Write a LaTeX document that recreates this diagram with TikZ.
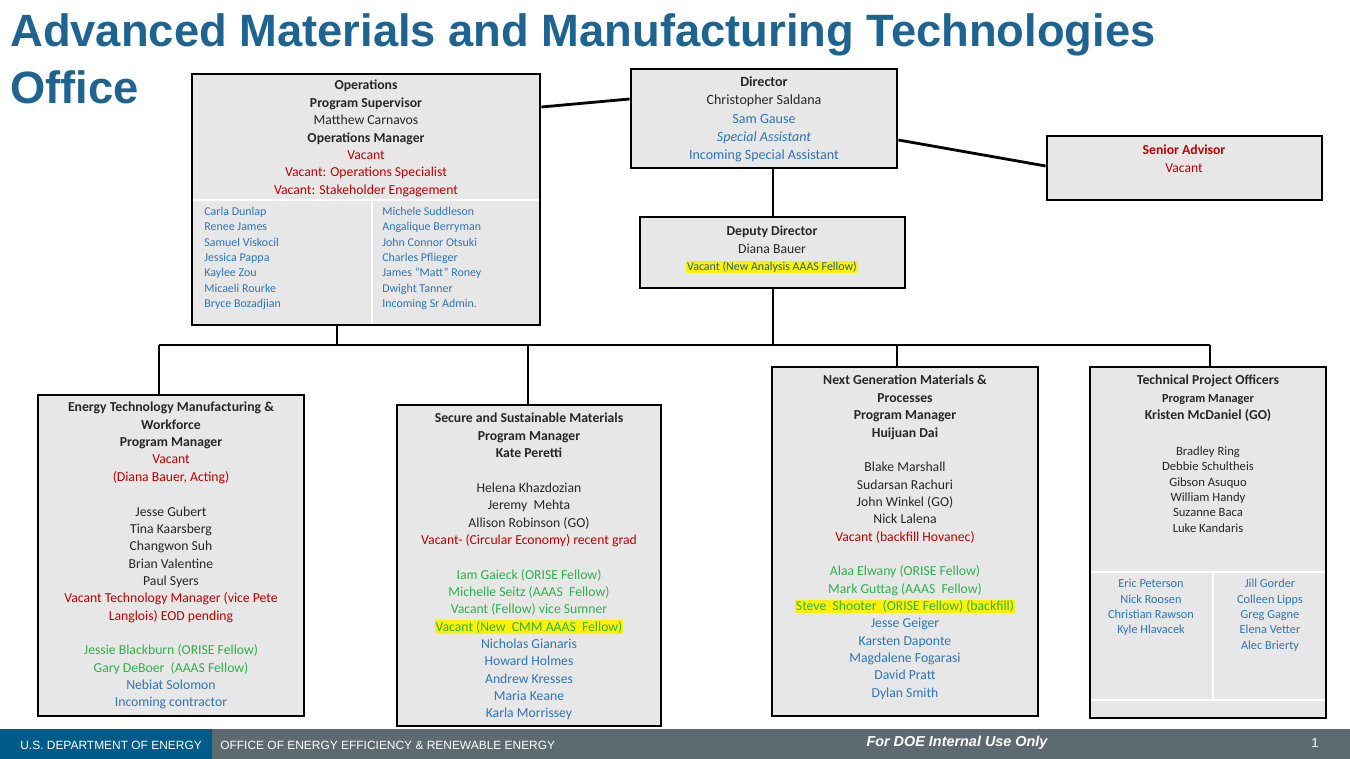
\documentclass[tikz,border=0pt]{standalone}
\usepackage{fontspec}
\setmainfont{Carlito}
\newfontfamily\titlefont{Liberation Sans}
\usetikzlibrary{fit}
\definecolor{doeblue}{HTML}{1F6391}
\definecolor{vred}{HTML}{C00000}
\definecolor{sblue}{HTML}{2E75B6}
\definecolor{fgreen}{HTML}{2EB14B}
\definecolor{boxgray}{HTML}{E7E7E7}
\definecolor{footgray}{HTML}{5E6A71}
\definecolor{footblue}{HTML}{005B8A}
\newcommand\hl[1]{{\setlength\fboxsep{0.5pt}\colorbox{yellow}{#1}}}
\newcommand\rd[1]{\textcolor{vred}{#1}}
\newcommand\bl[1]{\textcolor{sblue}{#1}}
\newcommand\gr[1]{\textcolor{fgreen}{#1}}

\begin{document}
\begin{tikzpicture}[x = 0.02cm, y = -0.02cm]
\tikzstyle{box}=[draw = black, line width = 1.6pt, fill = boxgray, inner sep = 0pt]
\tikzstyle{txt}=[anchor = north, align = center, inner sep = 0pt, text = black!85,
                 font = \fontsize{7.8}{9.87}\selectfont]
\tikzstyle{lst}=[anchor = north west, align = left, inner sep = 0pt, text = sblue,
                 font = \fontsize{6.8}{8.7}\selectfont]
\tikzstyle{tpl}=[anchor = north, align = center, inner sep = 0pt, text = sblue,
                 font = \fontsize{7}{8.7}\selectfont]
\tikzstyle{link}=[line width = 1.6pt]
\useasboundingbox (0,0) rectangle (1350,759);
% title
\node[anchor = base west, inner sep = 0pt, text = doeblue, font = \titlefont\bfseries\fontsize{25.8}{28}\selectfont]
  (title) at (10,47) {Advanced Materials and Manufacturing Technologies};
\node[anchor = base west, inner sep = 0pt, text = doeblue, font = \titlefont\bfseries\fontsize{25.8}{28}\selectfont]
  (office) at (10,104) {Office};
% boxes
\node[box, fit = {(192,74) (540,325)}] (ops) {};
\node[box, fit = {(631,69) (897,168)}] (dir) {};
\node[box, fit = {(1047,136) (1322,200)}] (sen) {};
\node[box, fit = {(640,217) (905,288)}] (dep) {};
\node[box, fit = {(38,395) (304,716)}] (etm) {};
\node[box, fit = {(397,405) (661,726)}] (ssm) {};
\node[box, fit = {(772,367) (1038,716)}] (ngm) {};
\node[box, fit = {(1090,367) (1326,718)}] (tpo) {};
% white dividers
\draw[white, line width = 1.2pt] (193,200) -- (539,200) (372,200) -- (372,324);
\draw[white, line width = 1.5pt] (1091,572) -- (1325,572) (1091,700) -- (1325,700) (1213,572) -- (1213,700);
% connectors
\coordinate (busL) at (159,345);
\coordinate (busR) at (1210,345);
\draw[link] (dir.south -| 773,0) -- (dep.north -| 773,0);
\draw[link] (ops.east |- 0,107) -- (dir.west |- 0,99);
\draw[link] (dir.east |- 0,140) -- (sen.west |- 0,166);
\draw[link] (dep.south -| 773,0) -- (773,345);
\draw[link] (busL) -- (busR);
\draw[link] (ops.south -| 337,0) -- (337,345);
\draw[link] (busL) -- (etm.north -| busL);
\draw[link] (528,345) -- (ssm.north -| 528,0);
\draw[link] (897,345) -- (ngm.north -| 897,0);
\draw[link] (busR) -- (tpo.north -| busR);
% texts
\node[txt] (opsT) at (366,80) {\textbf{Operations}\\ \textbf{Program Supervisor}\\ Matthew Carnavos\\
  \textbf{Operations Manager}\\ \rd{Vacant}\\ \rd{Vacant: Operations Specialist}\\ \rd{Vacant: Stakeholder Engagement}};
\node[lst] (opsL) at (204,207) {Carla Dunlap\\ Renee James\\ Samuel Viskocil\\ Jessica Pappa\\ Kaylee Zou\\ Micaeli Rourke\\ Bryce Bozadjian};
\node[lst] (opsR) at (382,207) {Michele Suddleson\\ Angalique Berryman\\ John Connor Otsuki\\ Charles Pflieger\\ James ``Matt'' Roney\\ Dwight Tanner\\ Incoming Sr Admin.};
\node[txt, font = \fontsize{8}{10.5}\selectfont] (dirT) at (764,76) {\textbf{Director}\\ Christopher Saldana\\
  \bl{Sam Gause}\\ \bl{\itshape Special Assistant}\\ \bl{Incoming Special Assistant}};
\node[txt] (senT) at (1184,145) {\rd{\textbf{Senior Advisor}}\\ \rd{Vacant}};
\node[txt] (depT) at (772,226) {\textbf{Deputy Director}\\ Diana Bauer\\ \hl{\textcolor{sblue!80!black}{\fontsize{6.8}{8}\selectfont Vacant (New Analysis AAAS Fellow)}}};
\node[txt] (etmT) at (171,402) {\textbf{Energy Technology Manufacturing \&}\\ \textbf{Workforce}\\ \textbf{Program Manager}\\
  \rd{Vacant}\\ \rd{(Diana Bauer, Acting)}\\[9.87pt] Jesse Gubert\\ Tina Kaarsberg\\ Changwon Suh\\ Brian Valentine\\ Paul Syers\\
  \rd{Vacant Technology Manager (vice Pete}\\ \rd{Langlois) EOD pending}\\[9.87pt]
  \gr{Jessie Blackburn (ORISE Fellow)}\\ \gr{Gary DeBoer\ \ (AAAS Fellow)}\\ \bl{Nebiat Solomon}\\ \bl{Incoming contractor}};
\node[txt] (ssmT) at (529,413) {\textbf{Secure and Sustainable Materials}\\ \textbf{Program Manager}\\ \textbf{Kate Peretti}\\[9.87pt]
  Helena Khazdozian\\ Jeremy\ \ Mehta\\ Allison Robinson (GO)\\ \rd{Vacant- (Circular Economy) recent grad}\\[9.87pt]
  \gr{Iam Gaieck (ORISE Fellow)}\\ \gr{Michelle Seitz (AAAS\ \ Fellow)}\\ \gr{Vacant (Fellow) vice Sumner}\\
  \hl{\gr{Vacant (New\ \ CMM AAAS\ \ Fellow)}}\\ \bl{Nicholas Gianaris}\\ \bl{Howard Holmes}\\ \bl{Andrew Kresses}\\ \bl{Maria Keane}\\ \bl{Karla Morrissey}};
\node[txt] (ngmT) at (905,375) {\textbf{Next Generation Materials \&}\\ \textbf{Processes}\\ \textbf{Program Manager}\\ \textbf{Huijuan Dai}\\[9.87pt]
  Blake Marshall\\ Sudarsan Rachuri\\ John Winkel (GO)\\ Nick Lalena\\ \rd{Vacant (backfill Hovanec)}\\[9.87pt]
  \gr{Alaa Elwany (ORISE Fellow)}\\ \gr{Mark Guttag (AAAS\ \ Fellow)}\\ \hl{\gr{Steve\ \ Shooter\ \ (ORISE Fellow) (backfill)}}\\
  \bl{Jesse Geiger}\\ \bl{Karsten Daponte}\\ \bl{Magdalene Fogarasi}\\ \bl{David Pratt}\\ \bl{Dylan Smith}};
\node[txt] (tpoT) at (1208,375) {\textbf{Technical Project Officers}\\ \textbf{\fontsize{7}{8.7}\selectfont Program Manager}\\ \textbf{Kristen McDaniel (GO)}};
\node[txt, font = \fontsize{7.2}{8.8}\selectfont] (tpoN) at (1208,446) {Bradley Ring\\ Debbie Schultheis\\ Gibson Asuquo\\ William Handy\\ Suzanne Baca\\ Luke Kandaris};
\node[tpl] (tpoL) at (1151,579) {Eric Peterson\\ Nick Roosen\\ Christian Rawson\\ Kyle Hlavacek};
\node[tpl] (tpoR) at (1270,579) {Jill Gorder\\ Colleen Lipps\\ Greg Gagne\\ Elena Vetter\\ Alec Brierty};
% footer
\fill[footgray] (0,729) rectangle (1350,759);
\fill[footblue] (0,729) rectangle (212,759);
\node[anchor = west, inner sep = 0pt, text = white, font = \titlefont\fontsize{6.8}{8}\selectfont] (doe) at (20,745) {U.S. DEPARTMENT OF ENERGY};
\node[anchor = west, inner sep = 0pt, text = white, font = \titlefont\fontsize{6.8}{8}\selectfont] (eere) at (220,745) {OFFICE OF ENERGY EFFICIENCY \& RENEWABLE ENERGY};
\node[inner sep = 0pt, text = white, font = \titlefont\bfseries\itshape\fontsize{8.2}{9}\selectfont] (internal) at (957,743) {For DOE Internal Use Only};
\node[inner sep = 0pt, text = white, font = \titlefont\fontsize{7.5}{9}\selectfont] (page) at (1315,743) {1};
\end{tikzpicture}
\end{document}
